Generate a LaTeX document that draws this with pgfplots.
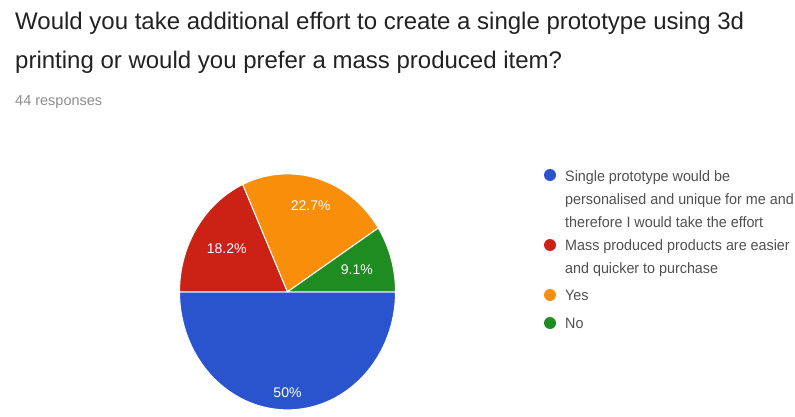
\documentclass[border=0pt]{standalone}
\usepackage{pgfplots}
\usepackage{pgfplotstable}
\pgfplotsset{compat=1.18}
\usepackage{fontspec}
\setmainfont{Liberation Sans}
\newfontfamily\legfont{Liberation Sans}[FakeStretch=0.955]
\definecolor{sliceblue}{RGB}{42,84,206}
\definecolor{slicered}{RGB}{204,34,22}
\definecolor{sliceorange}{RGB}{248,142,10}
\definecolor{slicegreen}{RGB}{30,140,32}
\colorlet{slice0}{sliceblue}
\colorlet{slice1}{slicered}
\colorlet{slice2}{sliceorange}
\colorlet{slice3}{slicegreen}
\definecolor{titlecol}{RGB}{34,34,34}
\definecolor{subcol}{RGB}{140,140,140}
\definecolor{legcol}{RGB}{80,80,80}

% share (%) of each answer, and the radius (fraction) at which its label sits
\pgfplotstableread{
value lr
50.0  0.856
18.2  0.67
22.7  0.76
9.1   0.67
}\piedata

\begin{document}
\begin{tikzpicture}[x=1pt,y=1pt]
\useasboundingbox (0,0) rectangle (795,416);

% cumulative angles: start at 3 o'clock, go clockwise
\xdef\cum{0}
\foreach \i in {0,...,3}{%
  \pgfplotstablegetelem{\i}{value}\of\piedata
  \pgfmathsetmacro\va{\pgfplotsretval}%
  \pgfplotstablegetelem{\i}{lr}\of\piedata
  \pgfmathsetmacro\lr{\pgfplotsretval}%
  \pgfmathsetmacro\a{\cum}%
  \pgfmathsetmacro\b{\cum-3.6*\va}%
  \pgfmathsetmacro\m{(\a+\b)/2}%
  \pgfmathsetmacro\lx{\lr*cos(\m)}%
  \pgfmathsetmacro\ly{\lr*sin(\m)}%
  \expandafter\xdef\csname sa\i\endcsname{\a}%
  \expandafter\xdef\csname sb\i\endcsname{\b}%
  \expandafter\xdef\csname lx\i\endcsname{\lx}%
  \expandafter\xdef\csname ly\i\endcsname{\ly}%
  \expandafter\xdef\csname vv\i\endcsname{\va}%
  \xdef\cum{\b}%
}

\begin{axis}[
  at={(156.2,-4.8)}, anchor=south west,
  x=108pt, y=118pt,
  xmin=-1.1, xmax=1.1, ymin=-1.1, ymax=1.1,
  hide axis, clip=false,
]
\pgfplotsinvokeforeach{0,...,3}{%
  \fill[slice#1, draw=white, line width=1pt, line join=round]
    (axis cs:0,0) -- (axis cs:{cos(\csname sa#1\endcsname)},{sin(\csname sa#1\endcsname)})
    arc[start angle=\csname sa#1\endcsname, end angle=\csname sb#1\endcsname, x radius=108pt, y radius=118pt]
    -- cycle;
}
\pgfplotsinvokeforeach{0,...,3}{%
  \node[text=white, font=\fontsize{14}{16}\selectfont]
    at (axis cs:{\csname lx#1\endcsname},{\csname ly#1\endcsname})
    {\pgfmathprintnumber[fixed,precision=1,assume math mode=true]{\csname vv#1\endcsname}\%};
}
\end{axis}

% title and subtitle
\node[anchor=base west, inner sep=0, text=titlecol, font=\fontsize{24}{28}\selectfont]
  at (15,386) {Would you take additional effort to create a single prototype using 3d};
\node[anchor=base west, inner sep=0, text=titlecol, font=\fontsize{24}{28}\selectfont]
  at (15,348) {printing or would you prefer a mass produced item?};
\node[anchor=base west, inner sep=0, text=subcol, font=\fontsize{14.5}{16}\selectfont]
  at (15,311) {44 responses};

% legend
\begin{scope}[every node/.style={anchor=base west, inner sep=0, text=legcol, font=\legfont\fontsize{15}{17}\selectfont}]
\fill[sliceblue] (550,241) circle (6);
\node at (565,235) {Single prototype would be};
\node at (565,212) {personalised and unique for me and};
\node at (565,189) {therefore I would take the effort};
\fill[slicered] (550,171) circle (6);
\node at (565,166) {Mass produced products are easier};
\node at (565,143) {and quicker to purchase};
\fill[sliceorange] (550,121) circle (6);
\node at (565,116) {Yes};
\fill[slicegreen] (550,93) circle (6);
\node at (565,88) {No};
\end{scope}
\end{tikzpicture}
\end{document}
